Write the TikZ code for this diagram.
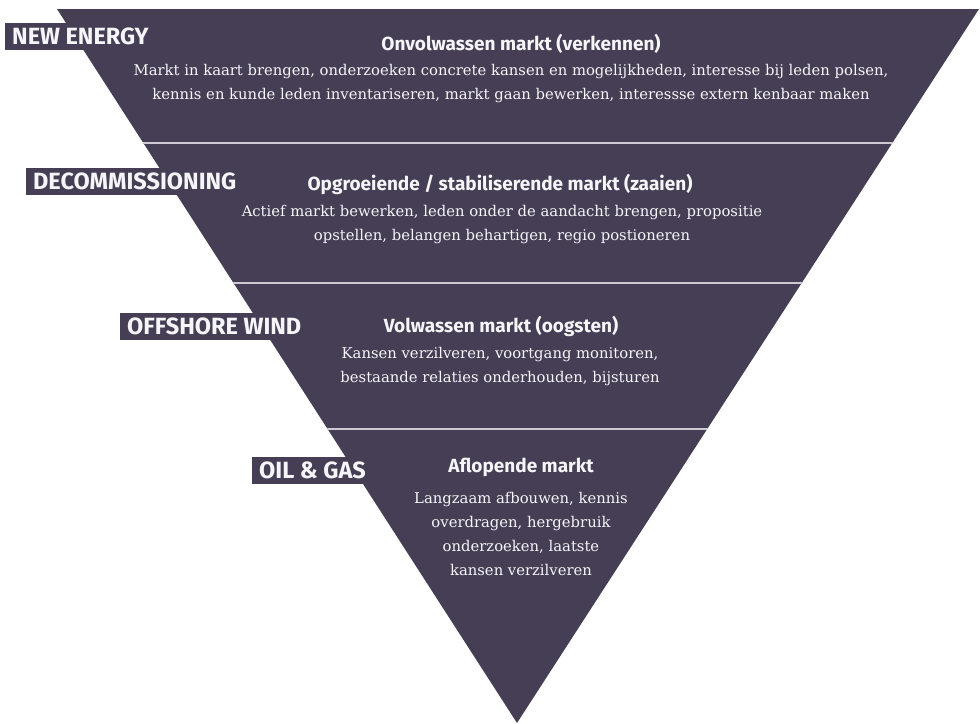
\documentclass[tikz,border=0pt]{standalone}
\usepackage{fontspec}
\setmainfont{DejaVu Serif}
\newfontfamily\headfont{Fira Sans}
\definecolor{pyr}{RGB}{70,62,85}
\definecolor{sepc}{RGB}{205,202,212}
\definecolor{txt}{RGB}{246,245,248}
\tikzset{
  sepline/.style={draw=sepc, line width=1.3pt},
  tag/.style={fill=pyr, text=txt, anchor=north west, font=\headfont\bfseries\fontsize{23.5}{26}\selectfont,
     minimum height=27pt, text height=16pt, text depth=0pt, inner xsep=7pt, inner ysep=0pt},
  head/.style={text=txt, font=\headfont\bfseries\fontsize{19}{22}\selectfont, inner sep=0pt},
  body/.style={text=txt, font=\fontsize{14.8}{24}\selectfont, align=center, inner sep=0pt}
}
\begin{document}
\begin{tikzpicture}[x=1pt,y=-1pt]
\useasboundingbox (0,0) rectangle (980,723);
\coordinate (tl) at (57,9);
\coordinate (tr) at (979,9);
\coordinate (ap) at (517,723);
\fill[pyr] (tl) -- (tr) -- (ap) -- cycle;
\begin{scope}
\clip (tl) -- (tr) -- (ap) -- cycle;
\coordinate (s1a) at (0,143); \coordinate (s1b) at (980,143);
\coordinate (s2a) at (0,283); \coordinate (s2b) at (980,283);
\coordinate (s3a) at (0,429); \coordinate (s3b) at (980,429);
\draw[sepline] (s1a) -- (s1b);
\draw[sepline] (s2a) -- (s2b);
\draw[sepline] (s3a) -- (s3b);
\end{scope}
% labels
\node[tag] (l1) at (5,23) {NEW ENERGY};
\node[tag] (l2) at (26,168) {DECOMMISSIONING};
\node[tag] (l3) at (120,313) {OFFSHORE WIND};
\node[tag] (l4) at (252,457) {OIL \& GAS};
% band 1
\node[head] (h1) at (521,44) {Onvolwassen markt (verkennen)};
\node[body] (b1) at (511,84) {Markt in kaart brengen, onderzoeken concrete kansen en mogelijkheden, interesse bij leden polsen,\\kennis en kunde leden inventariseren, markt gaan bewerken, interessse extern kenbaar maken};
% band 2
\node[head] (h2) at (500,184) {Opgroeiende / stabiliserende markt (zaaien)};
\node[body] (b2) at (502,225) {Actief markt bewerken, leden onder de aandacht brengen, propositie\\opstellen, belangen behartigen, regio postioneren};
% band 3
\node[head] (h3) at (501,326) {Volwassen markt (oogsten)};
\node[body] (b3) at (500,367) {Kansen verzilveren, voortgang monitoren,\\bestaande relaties onderhouden, bijsturen};
% band 4
\node[head] (h4) at (521,467) {Aflopende markt};
\node[body] (b4) at (521,534) {Langzaam afbouwen, kennis\\overdragen, hergebruik\\onderzoeken, laatste\\kansen verzilveren};
\end{tikzpicture}
\end{document}
